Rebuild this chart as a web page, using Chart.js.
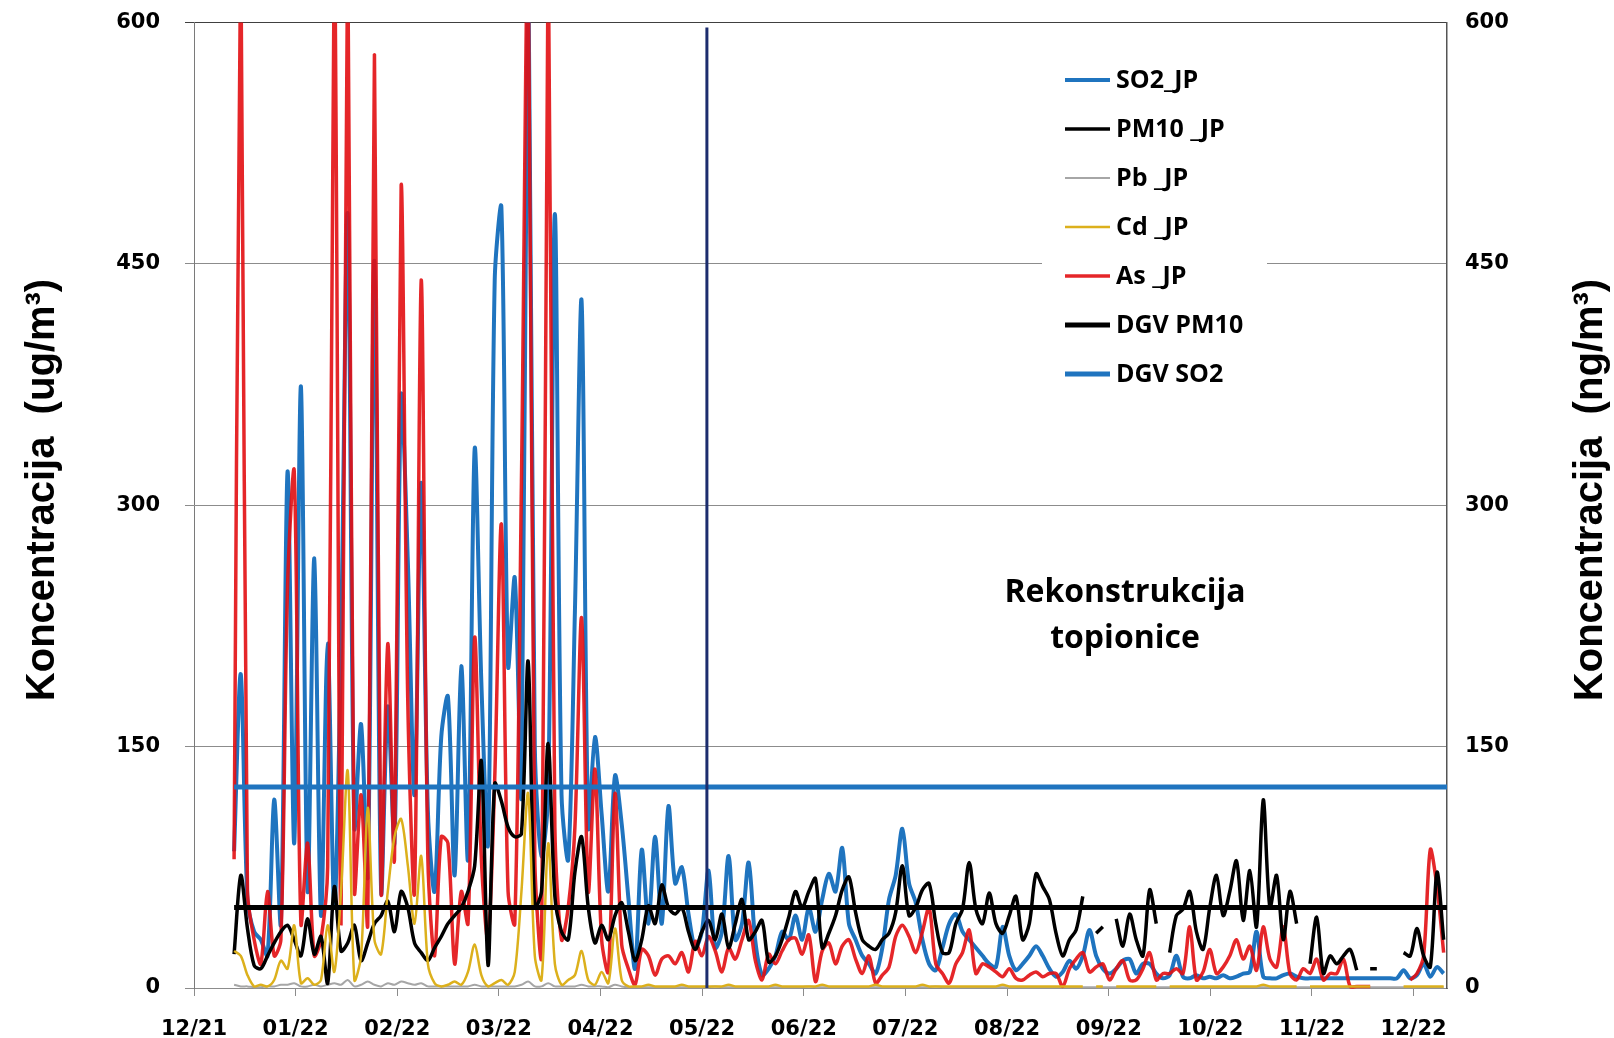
<!DOCTYPE html>
<html>
<head>
<meta charset="utf-8">
<title>Koncentracija</title>
<script src="https://cdn.jsdelivr.net/npm/chart.js@4.4.1/dist/chart.umd.min.js"></script>
<style>
  html, body { margin: 0; padding: 0; background: #fff; }
  #wrap { width: 1614px; height: 1038px; }
</style>
</head>
<body>
<div id="wrap"><canvas id="chart" width="1614" height="1038"></canvas></div>
<script>
// x axis: days counted from the 12/21 tick, one tick per mean month
const monthLabels = ['12/21', '01/22', '02/22', '03/22', '04/22', '05/22', '06/22',
  '07/22', '08/22', '09/22', '10/22', '11/22', '12/22'];
const axisDays = 375;
const firstDay = 12;
const stepDays = 2;

// SO2_JP (ug/m3), one reading every 2 days
const so2 = [
  85, 195, 55, 35, 30, 20, 117, 40, 321, 90,
  374, 60, 267, 45, 214, 50, 214, 481, 100, 164,
  70, 452, 60, 175, 90, 368, 265, 120, 314, 110,
  60, 156, 181, 70, 200, 80, 335, 190, 90, 440,
  485, 200, 255, 120, 650, 150, 82, 120, 481, 120,
  80, 234, 427, 100, 156, 108, 60, 132, 102, 56,
  12, 86, 40, 94, 40, 113, 65, 75, 46, 25,
  35, 73, 25, 35, 82, 30, 40, 78, 29, 8,
  12, 20, 35, 30, 45, 30, 50, 35, 55, 71,
  60, 87, 40, 30, 20, 15, 9, 25, 55, 70,
  99, 65, 53, 30, 15, 11, 25, 40, 46, 35,
  30, 25, 20, 15, 13, 38, 20, 11, 15, 20,
  26, 20, 12, 7, 10, 17, 12, 20, 36, 20,
  12, 9, 12, 17, 18, 9, 15, 15, 9, 6,
  8, 20, 7, 6, 8, 6, 7, 6, 8, 6,
  7, 9, 10, 35, 7, 6, 6, 8, 9, 7,
  6, 6, 6, 6, 6, 6, 6, 6, 6, 6,
  6, 6, 6, 6, 6, 11, 6, 8, 15, 7,
  13, 9
];

// PM10 _JP (ug/m3)
const pm10 = [
  21, 70, 37, 14, 12, 20, 28, 35, 39, 30,
  20, 43, 21, 32, 3, 63, 23, 28, 39, 17,
  28, 40, 45, 54, 35, 60, 50, 28, 22, 17,
  25, 32, 40, 45, 50, 60, 76, 141, 14, 127,
  116, 100, 94, 96, 203, 50, 60, 152, 57, 35,
  30, 72, 94, 50, 28, 39, 30, 45, 53, 35,
  17, 30, 51, 40, 64, 50, 46, 50, 35, 24,
  35, 42, 30, 46, 25, 40, 55, 30, 35, 42,
  16, 20, 30, 44, 60, 50, 60, 68, 25, 34,
  45, 61, 69, 47, 30, 26, 24, 30, 34, 47,
  76, 45, 50, 61, 65, 40, 22, 22, 40, 49,
  78, 49, 40, 59, 40, 34, 45, 57, 30, 40,
  71, 63, 55, 34, 20, 30, 36, 57, null, 34,
  38, null, 43, 26, 46, 30, 20, 61, 40, null,
  22, 45, 49, 60, 35, 24, 50, 70, 45, 60,
  79, 42, 73, 38, 117, 50, 70, 30, 60, 40,
  null, 15, 44, 9, 20, 15, 20, 24, 11, null,
  12, 12, null, null, null, 22, 20, 37, 20, 13,
  72, 30
];

// Pb _JP (ng/m3)
const pb = [
  2, 1, 1, 0.5, 0.5, 1, 1, 2, 2, 3,
  1, 1, 2, 1, 2, 3, 2, 5, 1, 2,
  4, 2, 1, 3, 2, 4, 3, 2, 3, 1,
  1, 1, 1, 1, 1, 1, 2, 1, 1, 1,
  1, 1, 1, 2, 4, 1, 1, 3, 1, 1,
  1, 1, 2, 1, 1, 1, 0.5, 2, 1, 0.5,
  0.5, 0.5, 0.5, 0.5, 0.5, 0.5, 0.5, 0.5, 0.5, 0.5,
  0.5, 0.5, 1, 0.5, 0.5, 0.5, 0.5, 0.5, 0.5, 0.5,
  0.5, 0.5, 0.5, 0.5, 0.5, 0.5, 1, 0.5, 0.5, 0.5,
  0.5, 0.5, 0.5, 0.5, 0.5, 0.5, 0.5, 0.5, 0.5, 0.5,
  0.5, 0.5, 0.5, 0.5, 0.5, 1, 0.5, 0.5, 0.5, 0.5,
  0.5, 0.5, 0.5, 0.5, 0.5, 0.5, 0.5, 0.5, 0.5, 0.5,
  0.5, 0.5, 0.5, 0.5, 0.5, 0.5, 0.5, 0.5, 0.5, 0.5,
  0.5, 0.5, 0.5, 0.5, 0.5, 0.5, 0.5, 0.5, 0.5, 0.5,
  0.5, 0.5, 0.5, 0.5, 0.5, 0.5, 0.5, 0.5, 0.5, 0.5,
  0.5, 0.5, 0.5, 0.5, 0.5, 0.5, 0.5, 0.5, 0.5, 0.5,
  0.5, 0.5, 0.5, 0.5, 0.5, 0.5, 0.5, 0.5, 0.5, 0.5,
  0.5, 0.5, 0.5, 0.5, 0.5, 0.5, 0.5, 0.5, 0.5, 0.5,
  0.5, 0.5
];

// Cd _JP (ng/m3)
const cd = [
  23, 20, 8, 1, 2, 1, 5, 17, 12, 39,
  3, 6, 2, 5, 39, 10, 60, 135, 5, 20,
  112, 30, 21, 60, 94, 105, 76, 40, 82, 15,
  3, 1, 2, 4, 2, 10, 27, 8, 1, 3,
  5, 2, 10, 60, 121, 20, 5, 90, 15, 2,
  5, 8, 23, 5, 2, 10, 3, 37, 5, 1,
  1, 1, 2, 1, 1, 1, 1, 2, 1, 1,
  1, 1, 1, 1, 2, 1, 1, 1, 1, 1,
  1, 2, 1, 1, 1, 1, 1, 1, 2, 1,
  1, 1, 1, 1, 1, 1, 2, 1, 1, 1,
  1, 1, 1, 2, 1, 1, 1, 1, 1, 1,
  1, 1, 1, 1, 1, 2, 1, 1, 1, 1,
  1, 1, 1, 1, 1, 1, 1, 1, null, 1,
  1, null, 1, 1, 1, 1, 1, 1, 1, null,
  1, 1, 1, 1, 1, 1, 1, 1, 1, 1,
  1, 1, 1, 1, 2, 1, 1, 1, 1, 1,
  null, 1, 1, 1, 1, 1, 1, 1, 1, 1,
  1, null, null, null, null, 1, 1, 1, 1, 1,
  1, 1
];

// As _JP (ng/m3)
const as = [
  80, 650, 60, 30, 15, 60, 20, 30, 250, 321,
  40, 90, 20, 30, 75, 650, 40, 650, 60, 120,
  40, 580, 60, 214, 80, 499, 176, 60, 440, 80,
  20, 94, 90, 15, 60, 40, 218, 80, 30, 130,
  288, 60, 40, 315, 650, 80, 20, 650, 100, 30,
  50, 100, 230, 60, 136, 30, 10, 121, 27, 12,
  2, 24, 20, 8, 18, 20, 15, 22, 10, 29,
  20, 32, 23, 10, 25, 18, 30, 42, 17, 5,
  21, 15, 23, 30, 31, 21, 33, 4, 23, 28,
  15, 26, 30, 18, 9, 20, 3, 8, 13, 32,
  39, 32, 22, 35, 50, 15, 9, 3, 15, 22,
  36, 9, 15, 13, 10, 7, 12, 6, 5, 8,
  10, 7, 9, 9, 1, 12, 18, 22, 10, 13,
  15, 5, 12, 17, 5, 5, 12, 22, 5, 9,
  9, 12, 9, 38, 5, 10, 24, 9, 13, 20,
  30, 18, 26, 11, 38, 18, 13, 38, 9, 5,
  12, 9, 18, 5, 9, 9, 18, 1, 1, 1,
  1, null, null, null, null, null, 5, 9, 20, 86,
  63, 22
];

// limit values and the reconstruction marker
const dgvDays = [12, 375];
const dgvPm10 = [50, 50];
const dgvSo2 = [125, 125];
const rekonDays = [153.5, 153.5];
const rekonLevel = [0, 597];

function series(values) {
  return values.map((v, i) => ({ x: firstDay + i * stepDays, y: v }));
}
function pairs(xs, ys) {
  return xs.map((x, i) => ({ x: x, y: ys[i] }));
}

const blue = '#1f74bf';
const lineBase = {
  pointRadius: 0,
  pointHoverRadius: 0,
  fill: false,
  spanGaps: false,
  tension: 0.3,
  clip: { left: 0, top: 0, right: 0, bottom: 2 }
};

const datasets = [
  Object.assign({}, lineBase, { label: 'SO2_JP', data: series(so2), borderColor: blue, borderWidth: 4, order: 7 }),
  Object.assign({}, lineBase, { label: 'PM10 _JP', data: series(pm10), borderColor: '#000000', borderWidth: 3.5, order: 4 }),
  Object.assign({}, lineBase, { label: 'Pb _JP', data: series(pb), borderColor: '#a6a6a6', borderWidth: 2, order: 6 }),
  Object.assign({}, lineBase, { label: 'Cd _JP', data: series(cd), borderColor: '#dcb01c', borderWidth: 2.5, order: 3 }),
  Object.assign({}, lineBase, { label: 'As _JP', data: series(as), borderColor: 'rgba(226,14,18,0.9)', borderWidth: 3.5, order: 5 }),
  Object.assign({}, lineBase, { label: 'DGV PM10', data: pairs(dgvDays, dgvPm10), borderColor: '#000000', borderWidth: 5, tension: 0, order: 2 }),
  Object.assign({}, lineBase, { label: 'DGV SO2', data: pairs(dgvDays, dgvSo2), borderColor: blue, borderWidth: 5, tension: 0, order: 1 }),
  Object.assign({}, lineBase, { label: 'Rekonstrukcija topionice', data: pairs(rekonDays, rekonLevel), borderColor: '#1c2d6e', borderWidth: 3, tension: 0, order: 0, inLegend: false })
];

const tickFont = { family: '"DejaVu Sans", Verdana, sans-serif', size: 21, weight: 'bold', lineHeight: 1.2 };

// fixed axis widths; label overflow must not push the plot top down
function fixWidth(w) {
  return scale => {
    scale.width = w;
    scale.paddingTop = 0;
    scale.paddingBottom = 0;
  };
}

// titles, legend and the annotation drawn on top of the chart
const decor = {
  id: 'decor',
  afterDraw(chart) {
    const ctx = chart.ctx;
    ctx.save();
    ctx.fillStyle = '#000';
    ctx.textAlign = 'center';
    ctx.textBaseline = 'middle';

    // axis titles, both read bottom to top
    ctx.font = 'bold 40px "Liberation Sans", Arial, sans-serif';
    const vText = (text, x, y) => {
      ctx.save();
      ctx.translate(x, y);
      ctx.rotate(-Math.PI / 2);
      ctx.fillText(text, 0, 0);
      ctx.restore();
    };
    vText('Koncentracija  (ug/m\u00b3)', 43, 490);
    vText('Koncentracija  (ng/m\u00b3)', 1591, 490);

    // legend
    ctx.fillStyle = '#fff';
    ctx.fillRect(1042, 52, 225, 345);
    ctx.font = 'bold 25px "Open Sans", "Liberation Sans", sans-serif';
    ctx.textAlign = 'left';
    let y = 80;
    chart.data.datasets.forEach(ds => {
      if (ds.inLegend === false) return;
      ctx.strokeStyle = ds.borderColor;
      ctx.lineWidth = Math.min(ds.borderWidth, 5);
      ctx.beginPath();
      ctx.moveTo(1065, y);
      ctx.lineTo(1110, y);
      ctx.stroke();
      ctx.fillStyle = '#000';
      ctx.fillText(ds.label, 1116, y + 1);
      y += 49;
    });

    // annotation
    ctx.textAlign = 'center';
    ctx.font = 'bold 32px "Open Sans", "Liberation Sans", sans-serif';
    ctx.fillText('Rekonstrukcija', 1125, 593);
    ctx.fillText('topionice', 1125, 639);
    ctx.restore();
  }
};

const chart = new Chart(document.getElementById('chart'), {
  type: 'line',
  data: { datasets: datasets },
  options: {
    responsive: false,
    animation: false,
    events: [],
    layout: { padding: { top: 22.6, left: 0, right: 0, bottom: 0 } },
    plugins: { legend: { display: false }, tooltip: { enabled: false } },
    scales: {
      x: {
        type: 'linear',
        min: 0,
        max: axisDays,
        afterBuildTicks: scale => {
          scale.ticks = monthLabels.map((_, k) => ({ value: k * 365 / 12 }));
        },
        afterFit: scale => { scale.height = 50; },
        ticks: {
          color: '#000',
          font: tickFont,
          padding: 21,
          maxRotation: 0,
          autoSkip: false,
          callback: (value, index) => monthLabels[index]
        },
        grid: { drawOnChartArea: false, drawTicks: true, tickLength: 8, color: '#8c8c8c' },
        border: { color: '#8c8c8c', width: 1 }
      },
      y: {
        position: 'left',
        min: 0,
        max: 600,
        afterFit: fixWidth(194),
        ticks: { stepSize: 150, color: '#000', font: tickFont, padding: 25 },
        grid: {
          color: ctx => (ctx.tick && ctx.tick.value === 600 ? '#404040' : '#8c8c8c'),
          lineWidth: 1,
          tickLength: 9
        },
        border: { color: '#7a7a7a', width: 1 }
      },
      y2: {
        position: 'right',
        min: 0,
        max: 600,
        afterFit: fixWidth(167),
        ticks: { stepSize: 150, color: '#000', font: tickFont, padding: 18 },
        grid: { display: false, drawTicks: false },
        border: { color: '#555555', width: 1.5 }
      }
    }
  },
  plugins: [decor]
});

// nudge the top padding until the plot top sits where the original has it
const plotTop = 22.6;
for (let k = 0; k < 4; k++) {
  const d = chart.chartArea.top - plotTop;
  if (Math.abs(d) < 0.5) break;
  chart.options.layout.padding.top = Math.max(0, chart.options.layout.padding.top - d);
  chart.update();
}
</script>
</body>
</html>
